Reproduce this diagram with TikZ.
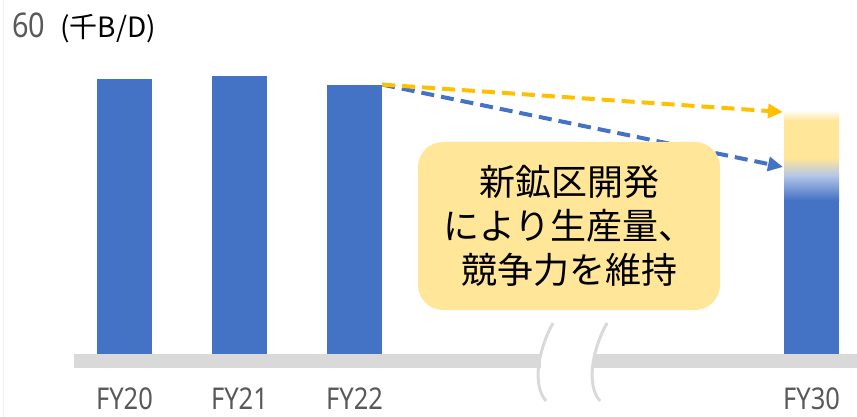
\documentclass[tikz,border=0pt]{standalone}
\usepackage{fontspec}
\setmainfont[FakeStretch=0.85]{Noto Sans}
\newfontfamily\jp{Noto Sans CJK JP}
\usetikzlibrary{arrows.meta}

\definecolor{barblue}{HTML}{4472C4}
\definecolor{trendgold}{HTML}{FFC000}
\definecolor{notefill}{HTML}{FFE699}
\definecolor{axisgray}{HTML}{D9D9D9}
\definecolor{labgray}{HTML}{595959}
\definecolor{paleblue}{HTML}{B4C7E7}

\begin{document}
\begin{tikzpicture}[x=1pt,y=-1pt,
    bar/.style={fill=barblue, draw=none, minimum width=55pt, inner sep=0pt, anchor=south},
    yr/.style={text=labgray, font=\fontsize{30}{30}\selectfont, anchor=base, inner sep=0pt, text depth=0pt},
    trend/.style={line width=4pt, dash pattern=on 13pt off 7pt, -{Triangle[length=15pt,width=14pt]}}]
    \useasboundingbox (0,0) rectangle (857,417);
    \draw[black!6, line width=1pt] (3,0) -- (3,417);
    % axis band, broken between FY22 and FY30
    \fill[axisgray] (74,354) rectangle (541,368);
    \fill[axisgray] (594,354) rectangle (857,368);
    \draw[axisgray, line width=3pt] (553,323) .. controls (538,350) and (532,385) .. (546,401);
    \draw[axisgray, line width=3pt] (607,323) .. controls (592,350) and (586,385) .. (600,401);
    % bars
    \node[bar, minimum height=275pt] (fy20) at (124.5,354) {};
    \node[bar, minimum height=278pt] (fy21) at (239.5,354) {};
    \node[bar, minimum height=269pt] (fy22) at (354.5,354) {};
    \fill[barblue] (784,200) rectangle (839,354);
    \shade[top color=paleblue, bottom color=barblue] (784,175) rectangle (839,200.5);
    \shade[top color=notefill, bottom color=paleblue] (784,158) rectangle (839,175.5);
    \fill[notefill] (784,120) rectangle (839,158.5);
    \shade[top color=white, bottom color=notefill] (784,110) rectangle (839,120.5);
    \coordinate (fy30) at (811.5,354);
    \coordinate (goldtip) at (783,112);
    \coordinate (bluetip) at (783,167);
    \draw[trend, barblue] (fy22.north east) -- (bluetip);
    \draw[trend, trendgold] (fy22.north east) -- (goldtip);
    % callout
    \node[fill=notefill, rounded corners=25pt, minimum width=302pt, minimum height=168pt,
          align=center, font=\jp\fontsize{36}{44}\selectfont] (note) at (569,226)
          {新鉱区開発\\により生産量、\\競争力を維持};
    % labels
    \node[yr] (l20) at ([yshift=-55pt]fy20.south) {FY20};
    \node[yr] (l21) at ([yshift=-55pt]fy21.south) {FY21};
    \node[yr] (l22) at ([yshift=-55pt]fy22.south) {FY22};
    \node[yr] (l30) at ([yshift=-55pt]fy30) {FY30};
    \node[yr, anchor=base west, font=\fontsize{34}{34}\selectfont] (unit) at (12,38) {60\hspace{15pt}\textcolor{black}{\jp\fontsize{28}{28}\selectfont (千B/D)}};
\end{tikzpicture}
\end{document}
